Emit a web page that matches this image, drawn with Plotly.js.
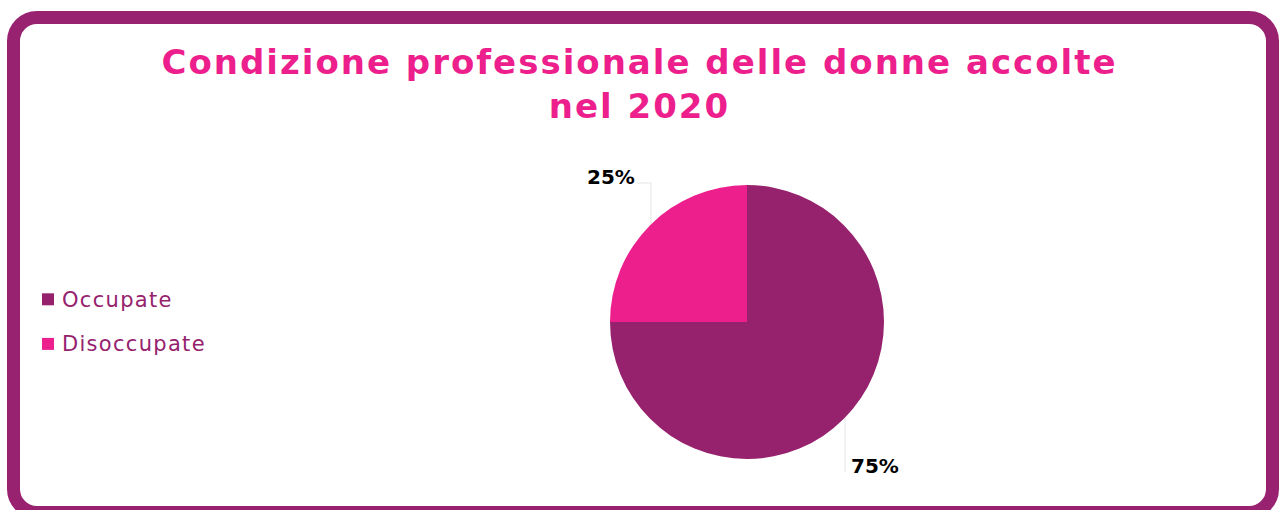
<!DOCTYPE html>
<html>
<head>
<meta charset="utf-8">
<script src="https://cdn.plot.ly/plotly-3.0.1.min.js"></script>
<style>
  html, body { margin:0; padding:0; background:#ffffff; width:1279px; height:510px; overflow:hidden; }
  #frame { position:absolute; left:7px; top:11px; width:1272px; height:508px; box-sizing:border-box;
           border:13px solid #98226F; border-radius:30px; background:#ffffff; }
  #chart { position:absolute; left:0; top:0; width:1279px; height:510px; }
  .gtitle { letter-spacing:2px; }
  .legendtext { letter-spacing:1.3px; }
  #chart .legendtext { transform:translate(-6px, -5px); }
  #chart .legend .scrollbox { clip-path:none !important; }
</style>
</head>
<body>
<div id="frame"></div>
<div id="chart"></div>
<script>
const categories = ['Occupate', 'Disoccupate'];
const values = [75, 25];
const colors = ['#96226E', '#EC1F8D'];
const chartTitle = 'Condizione professionale delle donne accolte<br>nel 2020';

const W = 1279, H = 510;
const px = x => x / W;
const py = y => (H - y) / H;

const total = values.reduce((a, b) => a + b, 0);
const pct = values.map(v => Math.round(v / total * 100) + '%');

const trace = {
  type: 'pie',
  labels: categories.map(c => '<span style="font-size:21px">' + c + '</span>'),
  values: values,
  sort: false,
  direction: 'clockwise',
  rotation: 0,
  marker: { colors: colors, line: { width: 0 } },
  textinfo: 'none',
  hoverinfo: 'label+percent',
  domain: { x: [px(610), px(884)], y: [py(459), py(185)] }
};

const layout = {
  width: W, height: H,
  margin: { l: 0, r: 0, t: 0, b: 0 },
  paper_bgcolor: 'rgba(0,0,0,0)',
  plot_bgcolor: 'rgba(0,0,0,0)',
  title: {
    text: chartTitle,
    font: { family: 'DejaVu Sans', size: 34, color: '#EC1F8D', weight: 'bold' },
    x: 0.5, xanchor: 'center', y: py(74), yanchor: 'middle'
  },
  showlegend: true,
  legend: {
    x: px(28), xanchor: 'left', y: py(322), yanchor: 'middle',
    font: { family: 'DejaVu Sans', size: 32, color: '#96226E' },
    bgcolor: 'rgba(0,0,0,0)'
  },
  annotations: [
    { text: pct[1], x: px(611), y: py(177), xref: 'paper', yref: 'paper', showarrow: false,
      xanchor: 'center', yanchor: 'middle',
      font: { family: 'DejaVu Sans', size: 20, color: '#000000', weight: 'bold' } },
    { text: pct[0], x: px(875), y: py(466), xref: 'paper', yref: 'paper', showarrow: false,
      xanchor: 'center', yanchor: 'middle',
      font: { family: 'DejaVu Sans', size: 20, color: '#000000', weight: 'bold' } }
  ],
  shapes: [
    { type: 'path', xref: 'paper', yref: 'paper',
      path: `M ${px(637)},${py(183)} L ${px(651)},${py(183)} L ${px(651)},${py(224)}`,
      line: { color: '#E3E3E3', width: 1 } },
    { type: 'path', xref: 'paper', yref: 'paper',
      path: `M ${px(845)},${py(418)} L ${px(845)},${py(472)}`,
      line: { color: '#E3E3E3', width: 1 } }
  ]
};

Plotly.newPlot('chart', [trace], layout, { displayModeBar: false, staticPlot: true });
</script>
</body>
</html>
